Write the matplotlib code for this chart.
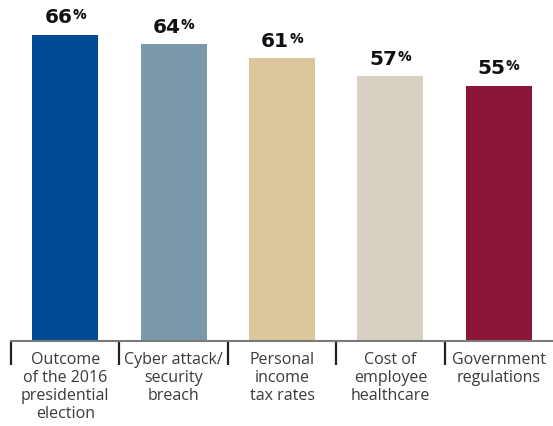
import matplotlib.pyplot as plt
from matplotlib.offsetbox import TextArea, HPacker, AnnotationBbox
from matplotlib.transforms import blended_transform_factory

categories = ["Outcome\nof the 2016\npresidential\nelection",
              "Cyber attack/\nsecurity\nbreach",
              "Personal\nincome\ntax rates",
              "Cost of\nemployee\nhealthcare",
              "Government\nregulations"]
values = [66, 64, 61, 57, 55]
colors = ["#004B93", "#7C98AB", "#DCC69C", "#D8D1C3", "#8C1538"]

plt.rcParams['font.family'] = ['Open Sans', 'DejaVu Sans']

fig = plt.figure(figsize=(5.53, 4.27), dpi=100)
ax = fig.add_axes([11 / 553, 85 / 427, 542 / 553, 342 / 427])

x = list(range(len(values)))
ax.bar(x, values, width=0.61, color=colors)
ax.set_xlim(-0.5, len(values) - 0.5)
ax.set_ylim(0, 73.7)

for s in ["top", "right", "left"]:
    ax.spines[s].set_visible(False)
ax.spines["bottom"].set_color("#7a7a7a")
ax.spines["bottom"].set_linewidth(1.5)
ax.set_yticks([])

# separators between categories
ax.set_xticks([i - 0.5 for i in x])
ax.set_xticklabels([])
ax.tick_params(axis="x", length=17.5, width=1.6, color="#222222", direction="out")

trans = blended_transform_factory(ax.transData, ax.transAxes)
for i, lab in enumerate(categories):
    ax.text(i, -0.028, lab, transform=trans, ha="center", va="top",
            fontsize=11.5, color="#3a3a3a", linespacing=1.18)

# value labels, number plus smaller percent sign
for i, v in enumerate(values):
    num = TextArea(str(v), textprops=dict(fontsize=14.5, fontweight="bold", color="#111111",
                                          family="DejaVu Sans"))
    pct = TextArea("%", textprops=dict(fontsize=11, fontweight="bold", color="#111111",
                                       family="Open Sans"))
    box = HPacker(children=[num, pct], align="top", pad=0, sep=0)
    ab = AnnotationBbox(box, (i, v), xybox=(0, 6), xycoords="data",
                        boxcoords="offset points", box_alignment=(0.5, 0),
                        frameon=False)
    ax.add_artist(ab)

fig.savefig("out.png", dpi=100)
